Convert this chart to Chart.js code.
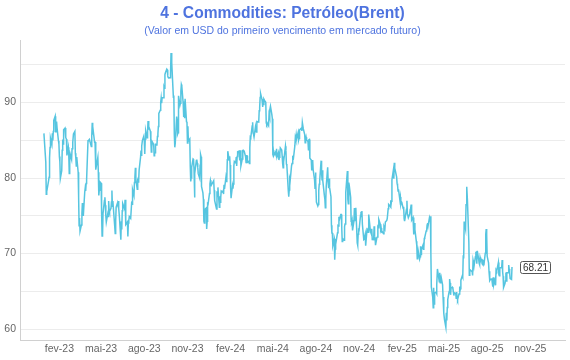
<!DOCTYPE html>
<html><head><meta charset="utf-8">
<script src="https://cdn.jsdelivr.net/npm/chart.js"></script>
<style>html,body{margin:0;padding:0;background:#fff}#wrap{width:570px;height:360px}</style>
</head><body><div id="wrap"><canvas id="c" width="570" height="360"></canvas></div>
<script>
const titleText = '4 - Commodities: Petróleo(Brent)';
const subtitleText = '(Valor em USD do primeiro vencimento em mercado futuro)';
const tickDates = ['2023-02-01','2023-05-01','2023-08-01','2023-11-01','2024-02-01','2024-05-01','2024-08-01','2024-11-01','2025-02-01','2025-05-01','2025-08-01','2025-11-01'];
const tickLabels = ['fev-23','mai-23','ago-23','nov-23','fev-24','mai-24','ago-24','nov-24','fev-25','mai-25','ago-25','nov-25'];
const yTicks = [60,65,70,75,80,85,90,95];
const xRange = ['2022-11-09','2026-01-14'];
const yRange = [58.55, 98.25];

const d2022 = ['12-30'];
const p2022 = [85.91];

const d2023 = [
'01-03','01-04','01-05','01-06','01-09','01-10','01-11','01-12','01-13','01-16','01-17','01-18','01-19','01-20','01-23','01-24','01-25','01-26','01-27','01-30','01-31',
'02-01','02-02','02-03','02-06','02-07','02-08','02-09','02-10','02-13','02-14','02-15','02-16','02-17','02-20','02-21','02-22','02-23','02-24','02-27','02-28',
'03-01','03-02','03-03','03-06','03-07','03-08','03-09','03-10','03-13','03-14','03-15','03-16','03-17','03-20','03-21','03-22','03-23','03-24','03-27','03-28','03-29','03-30','03-31',
'04-03','04-04','04-05','04-06','04-10','04-11','04-12','04-13','04-14','04-17','04-18','04-19','04-20','04-21','04-24','04-25','04-26','04-27','04-28',
'05-01','05-02','05-03','05-04','05-05','05-08','05-09','05-10','05-11','05-12','05-15','05-16','05-17','05-18','05-19','05-22','05-23','05-24','05-25','05-26','05-30','05-31',
'06-01','06-02','06-05','06-06','06-07','06-08','06-09','06-12','06-13','06-14','06-15','06-16','06-19','06-20','06-21','06-22','06-23','06-26','06-27','06-28','06-29','06-30',
'07-03','07-05','07-06','07-07','07-10','07-11','07-12','07-13','07-14','07-17','07-18','07-19','07-20','07-21','07-24','07-25','07-26','07-27','07-28','07-31',
'08-01','08-02','08-03','08-04','08-07','08-08','08-09','08-10','08-11','08-14','08-15','08-16','08-17','08-18','08-21','08-22','08-23','08-24','08-25','08-28','08-29','08-30','08-31',
'09-01','09-04','09-05','09-06','09-07','09-08','09-11','09-12','09-13','09-14','09-15','09-18','09-19','09-20','09-21','09-22','09-25','09-26','09-27','09-28','09-29',
'10-02','10-03','10-04','10-05','10-06','10-09','10-10','10-11','10-12','10-13','10-16','10-17','10-18','10-19','10-20','10-23','10-24','10-25','10-26','10-27','10-30','10-31',
'11-01','11-02','11-03','11-06','11-07','11-08','11-09','11-10','11-13','11-14','11-15','11-16','11-17','11-20','11-21','11-22','11-23','11-24','11-27','11-28','11-29','11-30',
'12-01','12-04','12-05','12-06','12-07','12-08','12-11','12-12','12-13','12-14','12-15','12-18','12-19','12-20','12-21','12-22','12-27','12-28','12-29'];
const p2023 = [
82.10,77.84,78.69,78.57,79.65,80.10,82.67,84.03,85.28,84.46,85.92,84.98,86.16,87.63,88.19,86.13,86.12,87.47,86.66,84.90,84.49,
82.84,82.17,79.94,80.99,83.69,85.09,84.50,86.39,86.61,85.58,85.38,85.14,83.00,84.07,83.05,80.60,82.21,83.16,82.45,83.89,
84.31,84.75,85.83,86.18,83.29,82.66,81.59,82.78,80.77,77.45,73.69,74.70,72.97,73.79,75.32,76.69,75.91,74.99,78.12,78.65,78.28,79.27,79.77,
84.93,84.94,84.99,85.12,84.18,85.61,87.33,86.09,86.31,84.76,84.77,83.12,81.10,81.66,82.73,80.77,77.69,78.37,79.54,
79.31,75.32,72.33,72.50,75.30,77.01,77.44,76.41,74.98,74.17,75.23,74.91,76.96,75.86,75.58,75.99,76.84,78.36,76.26,76.95,73.54,72.66,
74.28,76.13,76.71,76.29,76.95,75.96,74.79,71.84,74.29,73.20,75.67,76.61,76.09,75.90,77.12,74.14,73.85,74.18,72.26,74.03,74.34,74.90,
74.65,76.65,76.52,78.47,77.69,79.40,80.11,81.36,79.87,78.50,79.63,79.46,79.64,81.07,82.74,83.64,82.92,84.24,84.99,85.56,
84.91,83.20,85.14,86.24,85.34,86.17,87.55,86.40,86.81,86.21,84.89,83.45,84.12,84.80,84.46,82.96,83.21,83.36,84.48,84.42,85.49,85.86,86.83,
88.55,88.98,90.04,90.60,89.92,90.65,90.64,92.06,91.88,93.70,93.93,94.43,94.34,93.53,93.30,93.27,93.29,93.96,96.55,95.38,95.31,
90.71,90.92,85.81,84.07,84.58,88.15,87.65,85.82,86.00,90.89,89.65,89.90,91.50,92.38,92.16,89.83,88.07,90.13,87.93,90.48,87.45,87.41,
84.63,86.85,84.89,85.18,81.61,79.54,80.01,81.43,82.52,82.47,81.18,77.42,80.61,82.32,82.45,81.96,81.42,80.58,79.98,81.68,83.10,82.83,
78.88,78.03,77.20,74.30,74.05,75.84,76.03,73.24,74.26,76.61,76.55,77.95,79.23,79.70,79.39,79.07,79.65,78.39,77.04];

const d2024 = [
'01-02','01-03','01-04','01-05','01-08','01-09','01-10','01-11','01-12','01-15','01-16','01-17','01-18','01-19','01-22','01-23','01-24','01-25','01-26','01-29','01-30','01-31',
'02-01','02-02','02-05','02-06','02-07','02-08','02-09','02-12','02-13','02-14','02-15','02-16','02-19','02-20','02-21','02-22','02-23','02-26','02-27','02-28','02-29',
'03-01','03-04','03-05','03-06','03-07','03-08','03-11','03-12','03-13','03-14','03-15','03-18','03-19','03-20','03-21','03-22','03-25','03-26','03-27','03-28',
'04-01','04-02','04-03','04-04','04-05','04-08','04-09','04-10','04-11','04-12','04-15','04-16','04-17','04-18','04-19','04-22','04-23','04-24','04-25','04-26','04-29','04-30',
'05-01','05-02','05-03','05-06','05-07','05-08','05-09','05-10','05-13','05-14','05-15','05-16','05-17','05-20','05-21','05-22','05-23','05-24','05-28','05-29','05-30','05-31',
'06-03','06-04','06-05','06-06','06-07','06-10','06-11','06-12','06-13','06-14','06-17','06-18','06-19','06-20','06-21','06-24','06-25','06-26','06-27','06-28',
'07-01','07-02','07-03','07-05','07-08','07-09','07-10','07-11','07-12','07-15','07-16','07-17','07-18','07-19','07-22','07-23','07-24','07-25','07-26','07-29','07-30','07-31',
'08-01','08-02','08-05','08-06','08-07','08-08','08-09','08-12','08-13','08-14','08-15','08-16','08-19','08-20','08-21','08-22','08-23','08-26','08-27','08-28','08-29','08-30',
'09-02','09-03','09-04','09-05','09-06','09-09','09-10','09-11','09-12','09-13','09-16','09-17','09-18','09-19','09-20','09-23','09-24','09-25','09-26','09-27','09-30',
'10-01','10-02','10-03','10-04','10-07','10-08','10-09','10-10','10-11','10-14','10-15','10-16','10-17','10-18','10-21','10-22','10-23','10-24','10-25','10-28','10-29','10-30','10-31',
'11-01','11-04','11-05','11-06','11-07','11-08','11-11','11-12','11-13','11-14','11-15','11-18','11-19','11-20','11-21','11-22','11-25','11-26','11-27','11-28','11-29',
'12-02','12-03','12-04','12-05','12-06','12-09','12-10','12-11','12-12','12-13','12-16','12-17','12-18','12-19','12-20','12-23','12-24','12-26','12-27','12-30','12-31'];
const p2024 = [
75.89,78.25,77.59,78.76,76.12,77.59,76.80,77.41,78.29,78.15,78.29,77.88,79.10,78.56,80.06,79.55,80.04,82.43,83.55,82.40,82.87,81.71,
78.70,77.33,78.99,78.59,79.21,81.63,82.19,82.00,82.77,81.60,82.86,83.47,83.56,82.34,83.03,83.67,81.62,82.53,83.65,83.68,83.62,
83.55,82.80,82.04,82.96,82.96,82.08,82.21,81.92,84.03,85.42,85.34,86.89,87.38,85.95,85.78,85.43,86.75,86.25,86.09,87.48,
87.42,88.92,89.35,90.65,91.17,90.38,89.42,90.48,89.74,90.45,90.10,90.02,87.29,87.11,87.29,86.93,88.42,88.02,89.01,89.50,88.40,87.86,
83.44,83.67,82.96,83.33,83.16,83.58,83.88,82.79,83.36,82.38,82.75,83.27,83.98,83.71,82.88,81.90,81.36,82.12,84.22,83.60,81.86,81.62,
78.36,77.52,78.41,79.87,79.62,81.63,81.92,82.60,82.75,82.62,84.25,85.33,85.07,85.71,85.24,86.01,85.01,85.25,86.39,86.41,
86.60,86.24,87.34,86.54,85.75,84.66,85.08,85.40,85.03,84.85,83.73,85.08,85.11,82.63,82.40,81.01,81.71,82.37,81.13,79.78,78.63,80.72,
79.52,76.81,76.30,76.48,78.33,79.16,79.66,82.30,80.69,79.76,81.04,79.68,77.66,77.20,76.05,77.22,79.02,81.43,79.55,78.65,79.94,78.80,
77.52,73.75,72.70,72.69,71.06,71.84,69.19,70.61,71.97,71.61,72.75,73.70,73.65,74.88,74.49,75.17,75.17,73.46,71.60,71.98,71.77,
73.56,73.90,77.62,78.05,80.93,77.18,76.58,79.40,79.04,77.46,74.25,74.22,74.45,73.06,74.29,76.04,74.96,74.38,76.05,71.42,71.12,72.55,73.16,
73.10,75.08,75.53,74.92,75.63,73.87,71.83,71.89,72.28,72.56,71.04,73.30,73.31,72.81,74.23,75.17,73.01,72.81,72.83,73.28,71.84,
71.83,73.62,72.31,72.09,71.12,72.14,72.19,73.52,73.41,74.49,73.91,73.19,73.39,72.88,72.94,72.63,73.58,73.26,74.17,74.39,74.64];

const d2025 = [
'01-02','01-03','01-06','01-07','01-08','01-09','01-10','01-13','01-14','01-15','01-16','01-17','01-20','01-21','01-22','01-23','01-24','01-27','01-28','01-29','01-30','01-31',
'02-03','02-04','02-05','02-06','02-07','02-10','02-11','02-12','02-13','02-14','02-17','02-18','02-19','02-20','02-21','02-24','02-25','02-26','02-27','02-28',
'03-03','03-04','03-05','03-06','03-07','03-10','03-11','03-12','03-13','03-14','03-17','03-18','03-19','03-20','03-21','03-24','03-25','03-26','03-27','03-28','03-31',
'04-01','04-02','04-03','04-04','04-07','04-08','04-09','04-10','04-11','04-14','04-15','04-16','04-17','04-21','04-22','04-23','04-24','04-25','04-28','04-29','04-30',
'05-01','05-02','05-05','05-06','05-07','05-08','05-09','05-12','05-13','05-14','05-15','05-16','05-19','05-20','05-21','05-22','05-23','05-26','05-27','05-28','05-29','05-30',
'06-02','06-03','06-04','06-05','06-06','06-09','06-10','06-11','06-12','06-13','06-16','06-17','06-18','06-19','06-20','06-23','06-24','06-25','06-26','06-27','06-30',
'07-01','07-02','07-03','07-04','07-07','07-08','07-09','07-10','07-11','07-14','07-15','07-16','07-17','07-18','07-21','07-22','07-23','07-24','07-25','07-28','07-29','07-30','07-31',
'08-01','08-04','08-05','08-06','08-07','08-08','08-11','08-12','08-13','08-14','08-15','08-18','08-19','08-20','08-21','08-22','08-25','08-26','08-27','08-28','08-29',
'09-01','09-02','09-03','09-04','09-05','09-08','09-09','09-10','09-11','09-12','09-15','09-16','09-17','09-18','09-19','09-22','09-23'];
const p2025 = [
75.93,76.51,76.30,77.05,76.16,76.92,79.76,81.01,79.92,82.03,81.29,81.03,80.15,79.29,79.00,78.29,78.50,77.08,77.49,76.58,76.87,76.76,
75.96,76.20,74.61,74.29,74.66,75.87,77.00,75.18,75.02,74.74,75.22,75.84,76.04,76.48,74.43,74.78,73.02,72.53,74.04,73.18,
71.62,71.04,69.30,69.46,70.36,69.28,69.56,70.95,69.88,70.58,71.07,70.56,70.78,72.00,72.16,73.00,73.02,73.79,74.03,73.63,74.74,
74.49,74.95,70.14,65.58,64.21,62.82,65.48,63.33,64.76,64.88,64.67,65.85,67.96,66.26,67.44,66.12,66.55,66.87,65.86,64.25,63.12,
62.13,61.29,60.23,62.15,61.12,62.84,63.91,64.96,66.63,66.09,64.53,65.41,65.54,65.38,64.91,64.44,64.78,64.74,64.09,64.90,64.15,63.90,
64.63,65.63,64.86,65.34,66.47,67.04,66.87,69.77,69.36,74.23,73.23,76.45,76.70,78.85,77.01,71.48,67.14,67.68,67.73,67.77,67.61,
67.11,69.11,68.80,68.30,69.58,70.15,70.19,68.64,70.36,69.21,68.71,68.52,69.52,69.28,69.21,68.59,68.51,69.18,68.44,70.04,72.51,73.24,72.53,
69.67,68.76,67.64,66.89,66.43,66.59,66.63,66.12,65.63,66.84,65.85,66.60,65.79,67.84,67.67,67.73,68.80,67.22,67.05,68.05,68.12,
68.15,69.14,67.60,66.99,65.50,66.02,66.39,67.49,66.37,67.44,67.44,68.47,67.95,67.44,66.68,66.57,68.21];

const EPOCH = Date.UTC(2023, 1, 1);
function dayNum(s) {
  const [y, m, d] = s.split('-').map(Number);
  return (Date.UTC(y, m - 1, d) - EPOCH) / 86400000;
}
const years = [['2022', d2022, p2022], ['2023', d2023, p2023], ['2024', d2024, p2024], ['2025', d2025, p2025]];
const points = [];
years.forEach(([yr, ds, ps]) => {
  if (ds.length !== ps.length) console.error('length mismatch', yr, ds.length, ps.length);
  ds.forEach((md, i) => points.push({ x: dayNum(yr + '-' + md), y: ps[i] }));
});

const FONT = '"Liberation Sans", Arial, Helvetica, sans-serif';
Chart.defaults.font.family = FONT;

const lastLabel = {
  id: 'lastLabel',
  afterDatasetsDraw(chart) {
    const meta = chart.getDatasetMeta(0);
    const el = meta.data[meta.data.length - 1];
    const pts = chart.data.datasets[0].data;
    const text = pts[pts.length - 1].y.toFixed(2);
    const ctx = chart.ctx;
    ctx.save();
    ctx.font = '10px ' + FONT;
    const tw = ctx.measureText(text).width;
    const w = Math.round(tw + 5), h = 12;
    const bx = Math.round(el.x + 8) + 0.5, by = Math.round(el.y - h / 2) + 0.5;
    ctx.beginPath();
    ctx.roundRect(bx, by, w, h, 2);
    ctx.fillStyle = '#fff';
    ctx.fill();
    ctx.strokeStyle = '#555';
    ctx.lineWidth = 1;
    ctx.stroke();
    ctx.fillStyle = '#333';
    ctx.textAlign = 'center';
    ctx.textBaseline = 'middle';
    ctx.fillText(text, bx + w / 2, by + h / 2 + 0.5);
    ctx.restore();
  }
};

new Chart(document.getElementById('c'), {
  type: 'line',
  data: {
    datasets: [{
      data: points,
      borderColor: '#56c5e0',
      borderWidth: 1.5,
      pointRadius: 0,
      tension: 0,
      fill: false
    }]
  },
  options: {
    responsive: false,
    animation: false,
    devicePixelRatio: 1,
    layout: { padding: { left: 0, right: 5, top: 0, bottom: 0 } },
    plugins: {
      legend: { display: false },
      tooltip: { enabled: false },
      title: { display: true, text: titleText, color: '#4e73df', font: { size: 15.6, weight: 'bold' }, padding: { top: 4, bottom: 0 } },
      subtitle: { display: true, text: subtitleText, color: '#4e73df', font: { size: 10.5 }, padding: { top: 1.7, bottom: 3.2 } }
    },
    scales: {
      x: {
        type: 'linear',
        min: dayNum(xRange[0]),
        max: dayNum(xRange[1]),
        afterBuildTicks: s => { s.ticks = tickDates.map(d => ({ value: dayNum(d) })); },
        afterFit: s => { s.height = 20; },
        grid: { display: false, drawTicks: false },
        border: { display: true, color: '#d0d0d0' },
        ticks: { autoSkip: false, maxRotation: 0, padding: 3, color: '#666', font: { size: 10.5 }, callback: (v, i) => tickLabels[i] }
      },
      y: {
        min: yRange[0],
        max: yRange[1],
        afterBuildTicks: s => { s.ticks = yTicks.map(v => ({ value: v })); },
        afterFit: s => { s.width = 20; },
        grid: { color: '#ececec', drawTicks: false, lineWidth: 1 },
        border: { display: true, color: '#d0d0d0' },
        ticks: { padding: 4, color: '#666', font: { size: 10.5 }, callback: v => (v % 10 === 0 ? String(v) : '') }
      }
    }
  },
  plugins: [lastLabel]
});
</script>
</body></html>
